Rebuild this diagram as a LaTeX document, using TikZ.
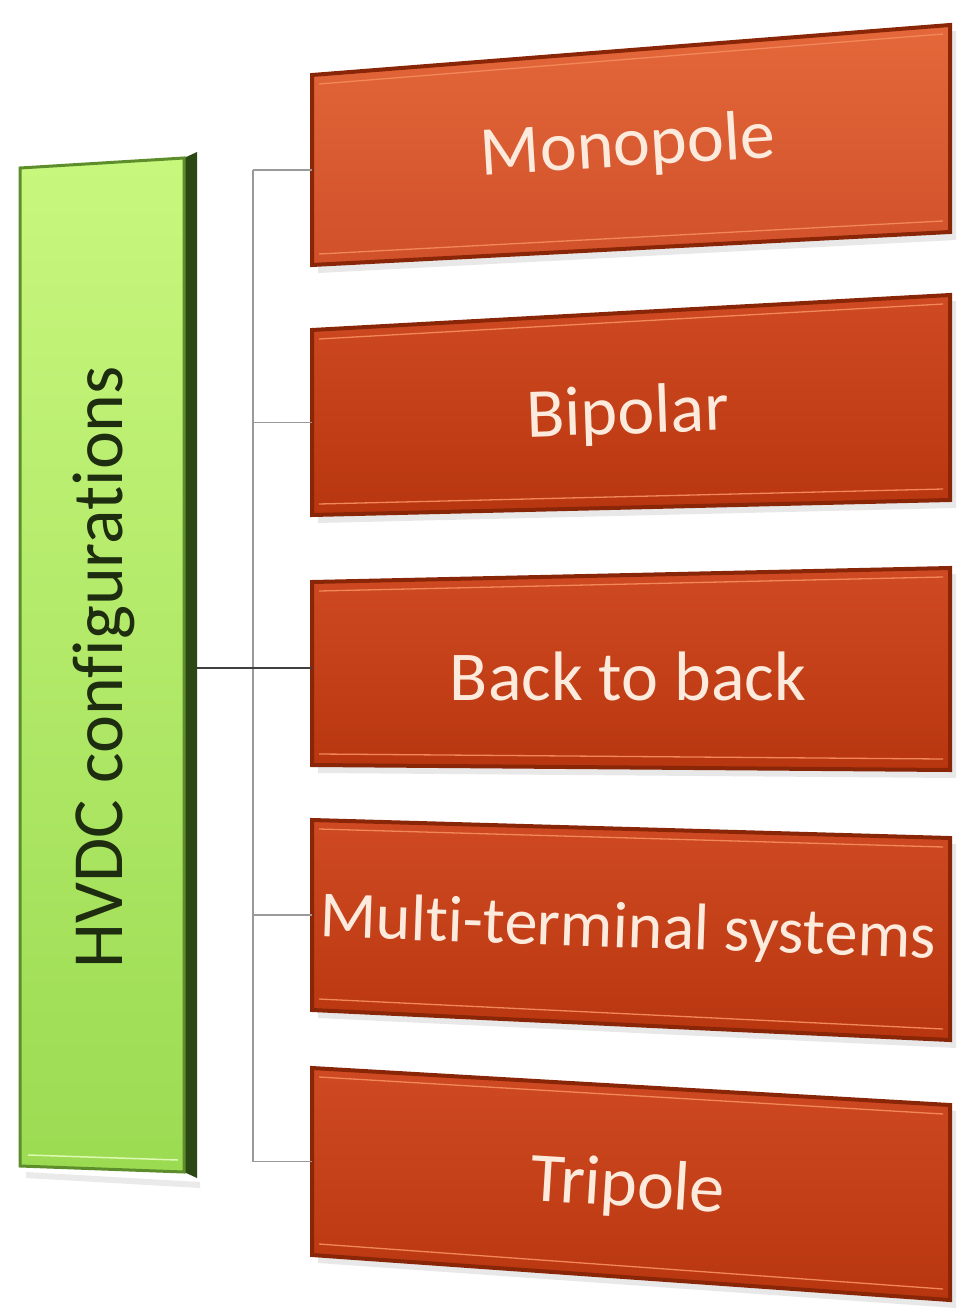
\documentclass[tikz,border=0pt]{standalone}
\usepackage{fontspec}
\setmainfont{Carlito}[Ligatures=NoCommon]
\usetikzlibrary{calc}
\definecolor{rbord}{HTML}{8A2608}
\definecolor{rhi}{HTML}{F2875A}
\definecolor{rtop}{HTML}{CF4A22}
\definecolor{rbot}{HTML}{B8360F}
\definecolor{mtop}{HTML}{E4683A}
\definecolor{mbot}{HTML}{D0502A}
\definecolor{cream}{HTML}{FCEBDD}
\definecolor{gtop}{HTML}{C8F77E}
\definecolor{gbot}{HTML}{9BDB52}
\definecolor{gbord}{HTML}{5E8E2C}
\definecolor{gside}{HTML}{2C4814}
\definecolor{gtext}{HTML}{1E2C10}
\definecolor{conn}{HTML}{9A9A9A}
\tikzset{
  lbl/.style={font=\fontsize{70}{84}\selectfont, text=cream, inner sep=0pt},
  redshade/.style={top color=rtop, bottom color=rbot},
  monoshade/.style={top color=mtop, bottom color=mbot},
  tick/.style={draw=conn, line width=1.3pt},
  mainconn/.style={draw=black!75, line width=1.6pt},
}
\newcommand\rbox[9]{%
  \fill[black!25, opacity=0.35] (318,#2+6) -- (956,#3+6) -- (956,#4+8) -- (318,#5+8) -- cycle;
  \path[#8, draw=rbord, line width=4pt] (312,#2) -- (950,#3) -- (950,#4) -- (312,#5) -- cycle;
  \draw[rhi, line width=1.3pt] (319,#2+9) -- (943,#3+9);
  \draw[rhi, line width=1.3pt] (319,#5-11) -- (943,#4-11);
  \node[lbl, rotate=#7, #9] (#1) at ($(306,#2)!0.5!(950,#4)$) {#6};
  \coordinate (#1L) at (312,{(#2+#5)/2});
}
\begin{document}
\begin{tikzpicture}[x=1pt,y=-1pt]
\useasboundingbox (0,0) rectangle (960,1308);
\fill[white] (0,0) rectangle (960,1308);

% green box
\fill[black!20, opacity=0.4] (26,1172) -- (200,1182) -- (200,1188) -- (26,1178) -- cycle;
\fill[gside] (184,158) -- (197,152) -- (197,1178) -- (184,1172) -- cycle;
\path[top color=gtop, bottom color=gbot, draw=gbord, line width=3pt]
  (20,168) -- (184,158) -- (184,1172) -- (20,1166) -- cycle;
\draw[gtop!60!white, line width=1.5pt] (28,1155) -- (178,1160);
\node[font=\fontsize{72}{86}\selectfont, text=gtext, rotate=90, inner sep=0pt] (hv) at (104,667) {HVDC configurations};
\coordinate (hvR) at (197,668);

% red boxes
\rbox{b1}{75}{25}{232}{265}{Monopole}{3.5}{monoshade}{yshift=6pt}
\rbox{b2}{330}{295}{500}{515}{Bipolar}{2}{redshade}{}
\rbox{b3}{582}{568}{770}{765}{Back to back}{0}{redshade}{}
\rbox{b4}{820}{838}{1040}{1010}{Multi-terminal systems}{-2}{redshade}{font=\fontsize{66}{80}\selectfont}
\rbox{b5}{1068}{1105}{1300}{1255}{Tripole}{-3.5}{redshade}{yshift=-4pt}
\coordinate (b3M) at (312,668);

% connectors
\coordinate (v1) at (253,{(75+265)/2});
\coordinate (v2) at (253,{(330+515)/2});
\coordinate (v4) at (253,{(820+1010)/2});
\coordinate (v5) at (253,{(1068+1255)/2});
\draw[tick] (v1) -- (v5);
\draw[tick] (v1) -- (b1L);
\draw[tick] (v2) -- (b2L);
\draw[tick] (v4) -- (b4L);
\draw[tick] (v5) -- (b5L);
\draw[mainconn] (hvR) -- (b3M);
\end{tikzpicture}
\end{document}
